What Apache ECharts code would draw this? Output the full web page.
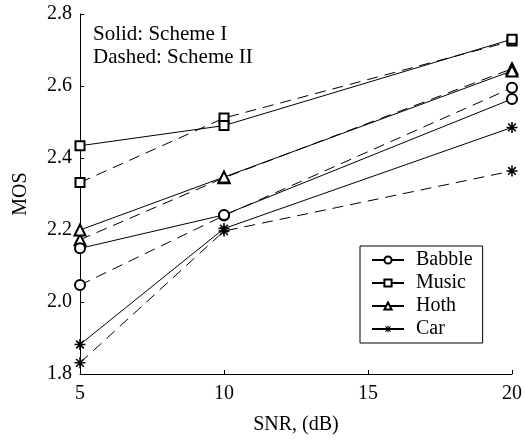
<!DOCTYPE html>
<html>
<head>
<meta charset="utf-8">
<script src="https://cdn.jsdelivr.net/npm/echarts@6/dist/echarts.min.js"></script>
<style>
  html, body { margin: 0; padding: 0; background: #fff; }
  #chart { width: 525px; height: 440px; }
</style>
</head>
<body>
<div id="chart"></div>
<script>
// SNR points (dB)
const snr = [5, 10, 20];
const noiseNames = ['Babble', 'Music', 'Hoth', 'Car'];

// MOS values
const babbleSolid  = [2.149, 2.242, 2.564];
const babbleDashed = [2.047, 2.240, 2.595];
const musicSolid   = [2.434, 2.490, 2.730];
const musicDashed  = [2.332, 2.511, 2.725];
const hothSolid    = [2.200, 2.347, 2.642];
const hothDashed   = [2.173, 2.345, 2.648];
const carSolid     = [1.882, 2.204, 2.485];
const carDashed    = [1.831, 2.197, 2.364];

const yTicks = [1.8, 2.0, 2.2, 2.4, 2.6, 2.8];
const xTicks = [5, 10, 15, 20];

const font = '"Liberation Serif", "DejaVu Serif", serif';
// asterisk marker made of four thin bars
const star = 'path://M-0.7,-5L0.7,-5L0.7,5L-0.7,5Z M-5,-0.7L5,-0.7L5,0.7L-5,0.7Z ' +
    'M-3,-4L4,3L3,4L-4,-3Z M3,-4L4,-3L-3,4L-4,3Z';

const markers = {
    Babble: { symbol: 'emptyCircle', size: 10 },
    Music: { symbol: 'emptyRect', size: 9 },
    Hoth: { symbol: 'emptyTriangle', size: 11 },
    Car: { symbol: star, size: 11 }
};

function pairs(vals) {
    return snr.map((x, i) => [x, vals[i]]);
}

function makeSeries(name, vals, dashed) {
    const m = markers[name];
    return {
        name: dashed ? name + ' II' : name,
        type: 'line',
        data: pairs(vals),
        symbol: m.symbol,
        symbolSize: m.size,
        showAllSymbol: true,
        color: '#000',
        itemStyle: { color: '#000', borderWidth: 1 },
        lineStyle: { color: '#000', width: 1, type: dashed ? [11, 7] : 'solid' },
        emphasis: { disabled: true },
        animation: false,
        z: dashed ? 2 : 3
    };
}

const series = [
    makeSeries('Babble', babbleSolid, false),
    makeSeries('Music', musicSolid, false),
    makeSeries('Hoth', hothSolid, false),
    makeSeries('Car', carSolid, false),
    makeSeries('Babble', babbleDashed, true),
    makeSeries('Music', musicDashed, true),
    makeSeries('Hoth', hothDashed, true),
    makeSeries('Car', carDashed, true)
];

const chart = echarts.init(document.getElementById('chart'), null, { renderer: 'canvas' });
chart.setOption({
    backgroundColor: '#fff',
    animation: false,
    grid: { left: 80, right: 13, top: 14, bottom: 61, containLabel: false },
    xAxis: {
        type: 'value',
        min: xTicks[0],
        max: xTicks[xTicks.length - 1],
        interval: 5,
        name: 'SNR, (dB)',
        nameLocation: 'middle',
        nameGap: 41,
        nameTextStyle: { fontFamily: font, fontSize: 20, color: '#000' },
        axisLine: { lineStyle: { color: '#000', width: 1 } },
        axisTick: { inside: true, length: 4, lineStyle: { color: '#000' } },
        axisLabel: { fontFamily: font, fontSize: 20, color: '#000', margin: 10 },
        splitLine: { show: false }
    },
    yAxis: {
        type: 'value',
        min: yTicks[0],
        max: yTicks[yTicks.length - 1],
        interval: 0.2,
        name: 'MOS',
        nameLocation: 'middle',
        nameGap: 49,
        nameTextStyle: { fontFamily: font, fontSize: 20, color: '#000' },
        axisLine: { show: true, lineStyle: { color: '#000', width: 1 } },
        axisTick: { show: true, inside: true, length: 4, lineStyle: { color: '#000' } },
        axisLabel: { fontFamily: font, fontSize: 20, color: '#000', margin: 8, formatter: v => v.toFixed(1) },
        splitLine: { show: false }
    },
    legend: {
        data: noiseNames,
        orient: 'vertical',
        left: 360,
        top: 246,
        padding: [4, 10, 4, 11],
        itemGap: 3,
        itemWidth: 32,
        itemHeight: 9,
        borderColor: '#000',
        borderWidth: 1,
        backgroundColor: '#fff',
        selectedMode: false,
        textStyle: { fontFamily: font, fontSize: 20, color: '#000', padding: [0, 0, 0, 7] }
    },
    graphic: [
        { type: 'text', left: 93, top: 24, style: { text: 'Solid: Scheme I', font: '21px ' + font, fill: '#000' } },
        { type: 'text', left: 93, top: 47, style: { text: 'Dashed: Scheme II', font: '21px ' + font, fill: '#000' } }
    ],
    series: series
});
</script>
</body>
</html>
